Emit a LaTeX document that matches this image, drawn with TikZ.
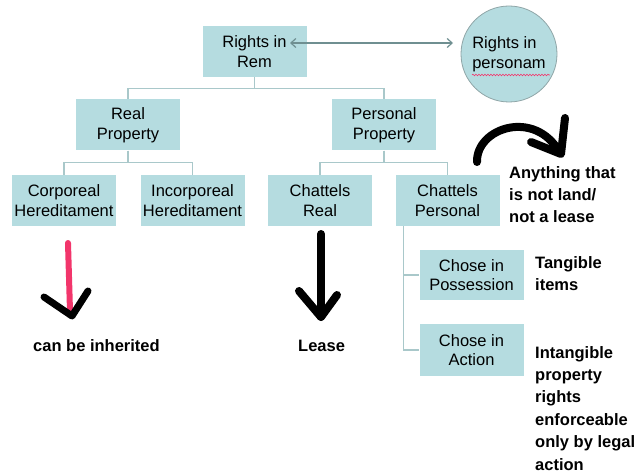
\documentclass[tikz,border=0pt]{standalone}
\usepackage{fontspec}
\setmainfont{Liberation Sans}
\usetikzlibrary{arrows.meta,decorations.pathmorphing,calc}
\definecolor{boxfill}{HTML}{B5DCE0}
\definecolor{treeline}{HTML}{A9C8CA}
\definecolor{circborder}{HTML}{8FA5A7}
\definecolor{arrowgrey}{HTML}{6F8F91}
\definecolor{pinkred}{HTML}{F2356B}
\begin{document}
\begin{tikzpicture}[x=1pt,y=-1pt,
  box/.style={fill=boxfill, minimum width=104pt, minimum height=51pt, inner sep=0pt, align=center, font=\fontsize{16.5}{19.5}\selectfont},
  tree/.style={draw=treeline, line width=1.1pt},
  note/.style={font=\fontsize{16.5}{22.4}\selectfont\bfseries, align=left, inner sep=0pt},
  blk/.style={line width=8pt, line cap=round, line join=round}]
\useasboundingbox (0,0) rectangle (639,473);

% boxes
\node[box] (rem) at (254.5,51.5) {Rights in\\Rem};
\node[box] (real) at (128,125) {Real\\Property};
\node[box] (persp) at (384,125) {Personal\\Property};
\node[box] (corp) at (64,200.5) {Corporeal\\Hereditament};
\node[box] (incorp) at (192.5,200.5) {Incorporeal\\Hereditament};
\node[box] (chreal) at (320,200.5) {Chattels\\Real};
\node[box] (chpers) at (447.5,200.5) {Chattels\\Personal};
\node[box, minimum height=50pt] (poss) at (471.5,275) {Chose in\\Possession};
\node[box, minimum height=52pt] (act) at (471.5,350) {Chose in\\Action};

% circle
\node[circle, fill=boxfill, draw=circborder, line width=0.8pt, minimum size=96pt, inner sep=0pt,
      align=left, font=\fontsize{16.5}{20}\selectfont] (pc) at (509,54) {Rights in\\personam};
\draw[pinkred, line width=0.6pt, decorate, decoration={snake, amplitude=0.8pt, segment length=3pt}]
  ($(pc.center)+(-37,21)$) -- ($(pc.center)+(41,21)$);

% double arrow
\coordinate (arl) at (290,43);
\coordinate (arr) at (453,43);
\draw[arrowgrey, line width=1.2pt, {Straight Barb[length=5pt,width=9pt]}-{Straight Barb[length=5pt,width=9pt]}] (arl) -- (arr);

% tree lines
\draw[tree] (rem.south) -- ++(0,11) -| (real.north);
\draw[tree] (rem.south) -- ++(0,11) -| (persp.north);
\draw[tree] (real.south) -- ++(0,12) -| (corp.north);
\draw[tree] (real.south) -- ++(0,12) -| (incorp.north);
\draw[tree] (persp.south) -- ++(0,12) -| (chreal.north);
\draw[tree] (persp.south) -- ++(0,12) -| (chpers.north);
\draw[tree] ([xshift=8pt]chpers.south west) |- (poss.west);
\draw[tree] ([xshift=8pt]chpers.south west) |- (act.west);

% hand-drawn arrows
\draw[pinkred, line width=6pt, line cap=round] (68,243) -- (70,311);
\draw[blk, line width=7pt] (44,297) -- (72,316) -- (88,291);
\draw[blk] (321,234) -- (321,317);
\draw[blk] (299,291) -- (321,317) -- (337,295);
\draw[blk] (477,162) .. controls (476,128) and (535,108) .. (560,153);
\draw[blk] (565,118) -- (561,154) -- (531,142);

% notes
\node[note, anchor=north west] (n1) at (509,166) {Anything that\\is not land/\\not a lease};
\node[note, anchor=north west] (n2) at (535,256) {Tangible\\items};
\node[note, anchor=north west] (n3) at (535,346) {Intangible\\property\\rights\\enforceable\\only by legal\\action};
\node[note, anchor=base west] (n4) at (33,351) {can be inherited};
\node[note, anchor=base west] (n5) at (298,351) {Lease};
\end{tikzpicture}
\end{document}
